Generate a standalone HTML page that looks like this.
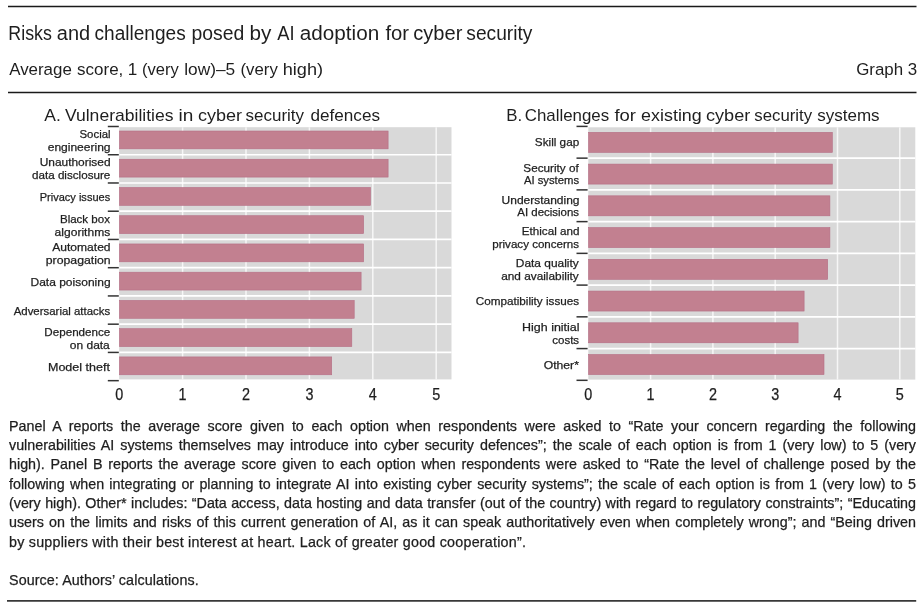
<!DOCTYPE html>
<html><head><meta charset="utf-8"><style>
html,body{margin:0;padding:0;background:#fff;-webkit-font-smoothing:antialiased;}
body{width:921px;height:605px;position:relative;overflow:hidden;will-change:transform;font-family:"Liberation Sans", sans-serif;color:#1e1e1e;}
svg{position:absolute;left:0;top:0;}
svg text{font-family:"Liberation Sans", sans-serif;fill:#1e1e1e;}
svg text.s{stroke:#1e1e1e;stroke-width:0.25px;}
.fl{-webkit-text-stroke:0.25px #1e1e1e;position:absolute;left:9px;width:907px;font-size:14.3px;line-height:19.32px;white-space:nowrap;}
.j{text-align:justify;text-align-last:justify;white-space:nowrap;}
</style></head><body>
<svg width="921" height="605" viewBox="0 0 921 605">
<line x1="8" y1="6.45" x2="916.5" y2="6.45" stroke="#1a1a1a" stroke-width="1.5"/>
<line x1="8" y1="92.4" x2="916.5" y2="92.4" stroke="#1a1a1a" stroke-width="1.5"/>
<line x1="7" y1="600.9" x2="916.2" y2="600.9" stroke="#383838" stroke-width="1.6"/>
<text x="8.34" y="39.9" font-size="19.4" textLength="43.50" lengthAdjust="spacingAndGlyphs">Risks</text>
<text x="56.85" y="39.9" font-size="19.4" textLength="33.34" lengthAdjust="spacingAndGlyphs">and</text>
<text x="94.59" y="39.9" font-size="19.4" textLength="91.10" lengthAdjust="spacingAndGlyphs">challenges</text>
<text x="191.55" y="39.9" font-size="19.4" textLength="52.80" lengthAdjust="spacingAndGlyphs">posed</text>
<text x="249.57" y="39.9" font-size="19.4" textLength="21.88" lengthAdjust="spacingAndGlyphs">by</text>
<text x="277.26" y="39.9" font-size="19.4" textLength="17.33" lengthAdjust="spacingAndGlyphs">AI</text>
<text x="299.82" y="39.9" font-size="19.4" textLength="79.42" lengthAdjust="spacingAndGlyphs">adoption</text>
<text x="385.51" y="39.9" font-size="19.4" textLength="23.62" lengthAdjust="spacingAndGlyphs">for</text>
<text x="413.25" y="39.9" font-size="19.4" textLength="49.09" lengthAdjust="spacingAndGlyphs">cyber</text>
<text x="466.37" y="39.9" font-size="19.4" textLength="66.07" lengthAdjust="spacingAndGlyphs">security</text>
<text x="9.17" y="74.9" font-size="16.9" textLength="62.68" lengthAdjust="spacingAndGlyphs">Average</text>
<text x="77.03" y="74.9" font-size="16.9" textLength="46.30" lengthAdjust="spacingAndGlyphs">score,</text>
<text x="127.89" y="74.9" font-size="16.9" textLength="9.55" lengthAdjust="spacingAndGlyphs">1</text>
<text x="142.07" y="74.9" font-size="16.9" textLength="36.76" lengthAdjust="spacingAndGlyphs">(very</text>
<text x="184.23" y="74.9" font-size="16.9" textLength="50.99" lengthAdjust="spacingAndGlyphs">low)–5</text>
<text x="240.46" y="74.9" font-size="16.9" textLength="37.38" lengthAdjust="spacingAndGlyphs">(very</text>
<text x="282.74" y="74.9" font-size="16.9" textLength="40.39" lengthAdjust="spacingAndGlyphs">high)</text>
<text x="917.2" y="75.1" font-size="16.9" text-anchor="end">Graph 3</text>
<text x="44.27" y="120.6" font-size="16.4" textLength="16.53" lengthAdjust="spacingAndGlyphs">A.</text>
<text x="64.92" y="120.6" font-size="16.4" textLength="108.61" lengthAdjust="spacingAndGlyphs">Vulnerabilities</text>
<text x="178.43" y="120.6" font-size="16.4" textLength="14.81" lengthAdjust="spacingAndGlyphs">in</text>
<text x="197.93" y="120.6" font-size="16.4" textLength="44.06" lengthAdjust="spacingAndGlyphs">cyber</text>
<text x="245.53" y="120.6" font-size="16.4" textLength="58.51" lengthAdjust="spacingAndGlyphs">security</text>
<text x="310.48" y="120.6" font-size="16.4" textLength="69.54" lengthAdjust="spacingAndGlyphs">defences</text>
<text x="506.22" y="120.6" font-size="16.4" textLength="15.92" lengthAdjust="spacingAndGlyphs">B.</text>
<text x="524.74" y="120.6" font-size="16.4" textLength="84.47" lengthAdjust="spacingAndGlyphs">Challenges</text>
<text x="614.44" y="120.6" font-size="16.4" textLength="21.57" lengthAdjust="spacingAndGlyphs">for</text>
<text x="641.14" y="120.6" font-size="16.4" textLength="60.61" lengthAdjust="spacingAndGlyphs">existing</text>
<text x="706.03" y="120.6" font-size="16.4" textLength="44.27" lengthAdjust="spacingAndGlyphs">cyber</text>
<text x="754.33" y="120.6" font-size="16.4" textLength="57.80" lengthAdjust="spacingAndGlyphs">security</text>
<text x="817.23" y="120.6" font-size="16.4" textLength="62.39" lengthAdjust="spacingAndGlyphs">systems</text>
<rect x="119.2" y="127.2" width="332.30" height="252.20" fill="#d9d9d9"/>
<line x1="182.60" y1="127.2" x2="182.60" y2="379.4" stroke="#f6f6f6" stroke-width="1.5"/>
<line x1="246.00" y1="127.2" x2="246.00" y2="379.4" stroke="#f6f6f6" stroke-width="1.5"/>
<line x1="309.40" y1="127.2" x2="309.40" y2="379.4" stroke="#f6f6f6" stroke-width="1.5"/>
<line x1="372.80" y1="127.2" x2="372.80" y2="379.4" stroke="#f6f6f6" stroke-width="1.5"/>
<line x1="436.20" y1="127.2" x2="436.20" y2="379.4" stroke="#f6f6f6" stroke-width="1.5"/>
<line x1="119.2" y1="154.74" x2="451.50" y2="154.74" stroke="#fff" stroke-width="1.7"/>
<line x1="119.2" y1="182.98" x2="451.50" y2="182.98" stroke="#fff" stroke-width="1.7"/>
<line x1="119.2" y1="211.22" x2="451.50" y2="211.22" stroke="#fff" stroke-width="1.7"/>
<line x1="119.2" y1="239.46" x2="451.50" y2="239.46" stroke="#fff" stroke-width="1.7"/>
<line x1="119.2" y1="267.70" x2="451.50" y2="267.70" stroke="#fff" stroke-width="1.7"/>
<line x1="119.2" y1="295.94" x2="451.50" y2="295.94" stroke="#fff" stroke-width="1.7"/>
<line x1="119.2" y1="324.18" x2="451.50" y2="324.18" stroke="#fff" stroke-width="1.7"/>
<line x1="119.2" y1="352.42" x2="451.50" y2="352.42" stroke="#fff" stroke-width="1.7"/>
<rect x="119.50" y="131.00" width="268.60" height="17.85" fill="#c28090" stroke="#b56d84" stroke-width="0.6"/>
<rect x="119.50" y="159.24" width="268.60" height="17.85" fill="#c28090" stroke="#b56d84" stroke-width="0.6"/>
<rect x="119.50" y="187.48" width="251.00" height="17.85" fill="#c28090" stroke="#b56d84" stroke-width="0.6"/>
<rect x="119.50" y="215.72" width="244.10" height="17.85" fill="#c28090" stroke="#b56d84" stroke-width="0.6"/>
<rect x="119.50" y="243.96" width="244.10" height="17.85" fill="#c28090" stroke="#b56d84" stroke-width="0.6"/>
<rect x="119.50" y="272.20" width="241.60" height="17.85" fill="#c28090" stroke="#b56d84" stroke-width="0.6"/>
<rect x="119.50" y="300.44" width="234.70" height="17.85" fill="#c28090" stroke="#b56d84" stroke-width="0.6"/>
<rect x="119.50" y="328.68" width="232.30" height="17.85" fill="#c28090" stroke="#b56d84" stroke-width="0.6"/>
<rect x="119.50" y="356.92" width="212.20" height="17.85" fill="#c28090" stroke="#b56d84" stroke-width="0.6"/>
<line x1="107.8" y1="126.50" x2="118.8" y2="126.50" stroke="#333" stroke-width="1.5"/>
<line x1="107.8" y1="154.74" x2="118.8" y2="154.74" stroke="#333" stroke-width="1.5"/>
<line x1="107.8" y1="182.98" x2="118.8" y2="182.98" stroke="#333" stroke-width="1.5"/>
<line x1="107.8" y1="211.22" x2="118.8" y2="211.22" stroke="#333" stroke-width="1.5"/>
<line x1="107.8" y1="239.46" x2="118.8" y2="239.46" stroke="#333" stroke-width="1.5"/>
<line x1="107.8" y1="267.70" x2="118.8" y2="267.70" stroke="#333" stroke-width="1.5"/>
<line x1="107.8" y1="295.94" x2="118.8" y2="295.94" stroke="#333" stroke-width="1.5"/>
<line x1="107.8" y1="324.18" x2="118.8" y2="324.18" stroke="#333" stroke-width="1.5"/>
<line x1="107.8" y1="352.42" x2="118.8" y2="352.42" stroke="#333" stroke-width="1.5"/>
<line x1="107.8" y1="380.66" x2="118.8" y2="380.66" stroke="#333" stroke-width="1.5"/>
<text class="s" x="79.48" y="138.00" font-size="11.6" textLength="31.08" lengthAdjust="spacingAndGlyphs">Social</text>
<text class="s" x="47.69" y="150.70" font-size="11.6" textLength="62.89" lengthAdjust="spacingAndGlyphs">engineering</text>
<text class="s" x="39.68" y="165.90" font-size="11.6" textLength="70.89" lengthAdjust="spacingAndGlyphs">Unauthorised</text>
<text class="s" x="32.01" y="178.90" font-size="11.6" textLength="78.31" lengthAdjust="spacingAndGlyphs">data disclosure</text>
<text class="s" x="39.70" y="201.00" font-size="11.6" textLength="70.50" lengthAdjust="spacingAndGlyphs">Privacy issues</text>
<text class="s" x="59.95" y="222.80" font-size="11.6" textLength="49.97" lengthAdjust="spacingAndGlyphs">Black box</text>
<text class="s" x="54.59" y="235.80" font-size="11.6" textLength="55.65" lengthAdjust="spacingAndGlyphs">algorithms</text>
<text class="s" x="52.18" y="251.10" font-size="11.6" textLength="58.40" lengthAdjust="spacingAndGlyphs">Automated</text>
<text class="s" x="45.81" y="263.80" font-size="11.6" textLength="64.79" lengthAdjust="spacingAndGlyphs">propagation</text>
<text class="s" x="30.52" y="285.60" font-size="11.6" textLength="80.06" lengthAdjust="spacingAndGlyphs">Data poisoning</text>
<text class="s" x="13.68" y="314.60" font-size="11.6" textLength="96.54" lengthAdjust="spacingAndGlyphs">Adversarial attacks</text>
<text class="s" x="44.35" y="335.90" font-size="11.6" textLength="65.97" lengthAdjust="spacingAndGlyphs">Dependence</text>
<text class="s" x="69.80" y="348.70" font-size="11.6" textLength="40.00" lengthAdjust="spacingAndGlyphs">on data</text>
<text class="s" x="47.97" y="370.70" font-size="11.6" textLength="61.92" lengthAdjust="spacingAndGlyphs">Model theft</text>
<text class="s" x="119.20" y="400.4" text-anchor="middle" font-size="16.0" textLength="8.0" lengthAdjust="spacingAndGlyphs">0</text>
<text class="s" x="182.60" y="400.4" text-anchor="middle" font-size="16.0" textLength="8.0" lengthAdjust="spacingAndGlyphs">1</text>
<text class="s" x="246.00" y="400.4" text-anchor="middle" font-size="16.0" textLength="8.0" lengthAdjust="spacingAndGlyphs">2</text>
<text class="s" x="309.40" y="400.4" text-anchor="middle" font-size="16.0" textLength="8.0" lengthAdjust="spacingAndGlyphs">3</text>
<text class="s" x="372.80" y="400.4" text-anchor="middle" font-size="16.0" textLength="8.0" lengthAdjust="spacingAndGlyphs">4</text>
<text class="s" x="436.20" y="400.4" text-anchor="middle" font-size="16.0" textLength="8.0" lengthAdjust="spacingAndGlyphs">5</text>
<rect x="588.3" y="127.3" width="327.00" height="252.30" fill="#d9d9d9"/>
<line x1="650.60" y1="127.3" x2="650.60" y2="379.6" stroke="#f6f6f6" stroke-width="1.5"/>
<line x1="712.90" y1="127.3" x2="712.90" y2="379.6" stroke="#f6f6f6" stroke-width="1.5"/>
<line x1="775.20" y1="127.3" x2="775.20" y2="379.6" stroke="#f6f6f6" stroke-width="1.5"/>
<line x1="837.50" y1="127.3" x2="837.50" y2="379.6" stroke="#f6f6f6" stroke-width="1.5"/>
<line x1="899.80" y1="127.3" x2="899.80" y2="379.6" stroke="#f6f6f6" stroke-width="1.5"/>
<line x1="588.3" y1="158.14" x2="915.30" y2="158.14" stroke="#fff" stroke-width="1.7"/>
<line x1="588.3" y1="189.88" x2="915.30" y2="189.88" stroke="#fff" stroke-width="1.7"/>
<line x1="588.3" y1="221.62" x2="915.30" y2="221.62" stroke="#fff" stroke-width="1.7"/>
<line x1="588.3" y1="253.36" x2="915.30" y2="253.36" stroke="#fff" stroke-width="1.7"/>
<line x1="588.3" y1="285.10" x2="915.30" y2="285.10" stroke="#fff" stroke-width="1.7"/>
<line x1="588.3" y1="316.84" x2="915.30" y2="316.84" stroke="#fff" stroke-width="1.7"/>
<line x1="588.3" y1="348.58" x2="915.30" y2="348.58" stroke="#fff" stroke-width="1.7"/>
<rect x="588.60" y="132.35" width="243.70" height="20.00" fill="#c28090" stroke="#b56d84" stroke-width="0.6"/>
<rect x="588.60" y="164.09" width="243.70" height="20.00" fill="#c28090" stroke="#b56d84" stroke-width="0.6"/>
<rect x="588.60" y="195.83" width="241.30" height="20.00" fill="#c28090" stroke="#b56d84" stroke-width="0.6"/>
<rect x="588.60" y="227.57" width="241.30" height="20.00" fill="#c28090" stroke="#b56d84" stroke-width="0.6"/>
<rect x="588.60" y="259.31" width="239.10" height="20.00" fill="#c28090" stroke="#b56d84" stroke-width="0.6"/>
<rect x="588.60" y="291.05" width="215.50" height="20.00" fill="#c28090" stroke="#b56d84" stroke-width="0.6"/>
<rect x="588.60" y="322.79" width="209.50" height="20.00" fill="#c28090" stroke="#b56d84" stroke-width="0.6"/>
<rect x="588.60" y="354.53" width="235.40" height="20.00" fill="#c28090" stroke="#b56d84" stroke-width="0.6"/>
<line x1="576.5" y1="126.40" x2="587.6" y2="126.40" stroke="#333" stroke-width="1.5"/>
<line x1="576.5" y1="158.14" x2="587.6" y2="158.14" stroke="#333" stroke-width="1.5"/>
<line x1="576.5" y1="189.88" x2="587.6" y2="189.88" stroke="#333" stroke-width="1.5"/>
<line x1="576.5" y1="221.62" x2="587.6" y2="221.62" stroke="#333" stroke-width="1.5"/>
<line x1="576.5" y1="253.36" x2="587.6" y2="253.36" stroke="#333" stroke-width="1.5"/>
<line x1="576.5" y1="285.10" x2="587.6" y2="285.10" stroke="#333" stroke-width="1.5"/>
<line x1="576.5" y1="316.84" x2="587.6" y2="316.84" stroke="#333" stroke-width="1.5"/>
<line x1="576.5" y1="348.58" x2="587.6" y2="348.58" stroke="#333" stroke-width="1.5"/>
<line x1="576.5" y1="380.32" x2="587.6" y2="380.32" stroke="#333" stroke-width="1.5"/>
<text class="s" x="534.87" y="146.30" font-size="11.6" textLength="44.32" lengthAdjust="spacingAndGlyphs">Skill gap</text>
<text class="s" x="523.37" y="172.20" font-size="11.6" textLength="55.31" lengthAdjust="spacingAndGlyphs">Security of</text>
<text class="s" x="523.88" y="184.40" font-size="11.6" textLength="55.23" lengthAdjust="spacingAndGlyphs">AI systems</text>
<text class="s" x="501.58" y="204.20" font-size="11.6" textLength="77.90" lengthAdjust="spacingAndGlyphs">Understanding</text>
<text class="s" x="517.28" y="216.10" font-size="11.6" textLength="61.84" lengthAdjust="spacingAndGlyphs">AI decisions</text>
<text class="s" x="521.74" y="235.20" font-size="11.6" textLength="57.71" lengthAdjust="spacingAndGlyphs">Ethical and</text>
<text class="s" x="492.25" y="248.20" font-size="11.6" textLength="86.86" lengthAdjust="spacingAndGlyphs">privacy concerns</text>
<text class="s" x="515.82" y="266.90" font-size="11.6" textLength="62.90" lengthAdjust="spacingAndGlyphs">Data quality</text>
<text class="s" x="501.20" y="279.90" font-size="11.6" textLength="77.53" lengthAdjust="spacingAndGlyphs">and availability</text>
<text class="s" x="475.71" y="305.00" font-size="11.6" textLength="103.42" lengthAdjust="spacingAndGlyphs">Compatibility issues</text>
<text class="s" x="522.08" y="331.10" font-size="11.6" textLength="57.45" lengthAdjust="spacingAndGlyphs">High initial</text>
<text class="s" x="552.21" y="344.00" font-size="11.6" textLength="26.91" lengthAdjust="spacingAndGlyphs">costs</text>
<text class="s" x="543.72" y="368.60" font-size="11.6" textLength="35.17" lengthAdjust="spacingAndGlyphs">Other*</text>
<text class="s" x="588.30" y="400.4" text-anchor="middle" font-size="16.0" textLength="8.0" lengthAdjust="spacingAndGlyphs">0</text>
<text class="s" x="650.60" y="400.4" text-anchor="middle" font-size="16.0" textLength="8.0" lengthAdjust="spacingAndGlyphs">1</text>
<text class="s" x="712.90" y="400.4" text-anchor="middle" font-size="16.0" textLength="8.0" lengthAdjust="spacingAndGlyphs">2</text>
<text class="s" x="775.20" y="400.4" text-anchor="middle" font-size="16.0" textLength="8.0" lengthAdjust="spacingAndGlyphs">3</text>
<text class="s" x="837.50" y="400.4" text-anchor="middle" font-size="16.0" textLength="8.0" lengthAdjust="spacingAndGlyphs">4</text>
<text class="s" x="899.80" y="400.4" text-anchor="middle" font-size="16.0" textLength="8.0" lengthAdjust="spacingAndGlyphs">5</text>
</svg>
<div class="fl j" style="top:416.81px">Panel A reports the average score given to each option when respondents were asked to “Rate your concern regarding the following</div><div class="fl j" style="top:436.13px">vulnerabilities AI systems themselves may introduce into cyber security defences”; the scale of each option is from 1 (very low) to 5 (very</div><div class="fl j" style="top:455.45px">high). Panel B reports the average score given to each option when respondents were asked to “Rate the level of challenge posed by the</div><div class="fl j" style="top:474.77px">following when integrating or planning to integrate AI into existing cyber security systems”; the scale of each option is from 1 (very low) to 5</div><div class="fl j" style="top:494.09px">(very high). Other* includes: “Data access, data hosting and data transfer (out of the country) with regard to regulatory constraints”; “Educating</div><div class="fl j" style="top:513.41px">users on the limits and risks of this current generation of AI, as it can speak authoritatively even when completely wrong”; and “Being driven</div><div class="fl" style="top:532.73px;letter-spacing:0.23px">by suppliers with their best interest at heart. Lack of greater good cooperation”.</div><div class="fl" style="top:571.11px;letter-spacing:0.09px">Source: Authors’ calculations.</div>
</body></html>
